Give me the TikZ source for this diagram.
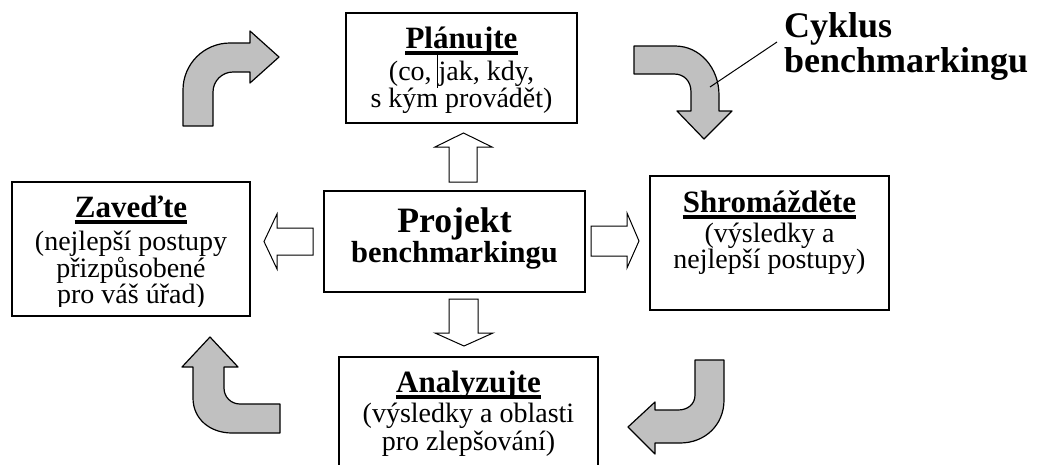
\documentclass[tikz,border=0pt]{standalone}
\usepackage{fontspec}
\setmainfont{Liberation Serif}
\definecolor{arrowgrey}{RGB}{192,192,192}
\tikzset{
  box/.style={draw, line width=1.5pt, inner sep=0pt},
  ttl/.style={font=\bfseries\fontsize{31}{31}\selectfont, inner sep=0pt, anchor=base},
  txt/.style={font=\fontsize{28}{28}\selectfont, inner sep=0pt, anchor=base},
  uline/.style={line width=3.5pt},
  hollow/.style={draw, line width=1pt, fill=white, line join=miter},
  greyarrow/.style={draw, line width=1.2pt, fill=arrowgrey, line join=round},
}
\begin{document}
\begin{tikzpicture}[x=1pt, y=-1pt]
\useasboundingbox (0,0) rectangle (1037,464);
\clip (0,0) rectangle (1037,464);

% boxes
\node[box, minimum width=231pt, minimum height=110pt] (plan) at (461.5,68) {};
\node[box, minimum width=238pt, minimum height=134pt] (zav) at (131,249) {};
\node[box, minimum width=261pt, minimum height=101pt] (proj) at (454.5,241.5) {};
\node[box, minimum width=239pt, minimum height=134pt] (shrom) at (769.5,243) {};
\node[box, minimum width=259pt, minimum height=110pt] (anal) at (468.5,412) {};

% Plánujte
\node[ttl] (planT) at (461.5,48) {Plánujte};
\draw[uline] ([yshift=-5pt]planT.base west) -- ([yshift=-5pt]planT.base east);
\node[txt] (planA) at (461.5,80) {(co, jak, kdy,};
\node[txt] (planB) at (461.5,107) {s kým provádět)};
\coordinate (curA) at (437,51);
\coordinate (curB) at (437,88);
\draw[line width=0.6pt] (curA) -- (curB);

% Zaveďte
\node[ttl] (zavT) at (131,217) {Zaveďte};
\draw[uline] ([yshift=-5pt]zavT.base west) -- ([yshift=-5pt]zavT.base east);
\node[txt] (zavA) at (131,250) {(nejlepší postupy};
\node[txt] (zavB) at (131,277) {přizpůsobené};
\begin{scope}
\clip (12,182) rectangle (250,306);
\node[txt] (zavC) at (131,303) {pro váš úřad)};
\end{scope}

% Projekt
\node[inner sep=0pt, anchor=base, font=\bfseries\fontsize{35.7}{36}\selectfont] (projT) at (454.5,232) {Projekt};
\node[inner sep=0pt, anchor=base, font=\bfseries\fontsize{30.5}{31}\selectfont] (projB) at (454.5,262) {benchmarkingu};

% Shromážděte
\node[ttl] (shromT) at (769.5,212) {Shromážděte};
\draw[uline] ([yshift=-5pt]shromT.base west) -- ([yshift=-5pt]shromT.base east);
\node[txt] (shromA) at (769.5,242) {(výsledky a};
\node[txt] (shromB) at (769.5,268) {nejlepší postupy)};

% Analyzujte
\node[ttl] (analT) at (468.5,392) {Analyzujte};
\draw[uline] ([yshift=-5pt]analT.base west) -- ([yshift=-5pt]analT.base east);
\node[txt] (analA) at (468.5,422) {(výsledky a oblasti};
\node[txt] (analB) at (468.5,450) {pro zlepšování)};

% hollow block arrows
\draw[hollow] (449,182) -- (449,147) -- (435,147) -- (463.5,133) -- (492,147) -- (477,147) -- (477,182) -- cycle;
\draw[hollow] (449,299) -- (449,333) -- (435,333) -- (464,346) -- (493,333) -- (478,333) -- (478,299) -- cycle;
\draw[hollow] (313,228) -- (277,228) -- (277,214) -- (264,241.5) -- (277,269) -- (277,255) -- (313,255) -- cycle;
\draw[hollow] (591,226) -- (627,226) -- (627,213) -- (639,241) -- (627,268) -- (627,256) -- (591,256) -- cycle;

% grey curved arrows
\draw[greyarrow] (183,126) -- (183,90) .. controls (183,64) and (204,43) .. (230,43) -- (250,43) -- (250,31) -- (279,57) -- (250,83) -- (250,72) -- (233,72) .. controls (222,72) and (213,81) .. (213,92) -- (213,126) -- cycle;
\draw[greyarrow] (634,46) -- (675,46) .. controls (700,46) and (719,68) .. (719,95) -- (719,111) -- (732,111) -- (704,139) -- (677,111) -- (691,111) -- (691,92) .. controls (691,81) and (684,74) .. (674,74) -- (634,74) -- cycle;
\draw[greyarrow] (695,360) -- (724,360) -- (724,400) .. controls (724,425) and (705,443) .. (680,443) -- (655,443) -- (655,454) -- (628,427) -- (655,402) -- (655,410) -- (678,410) .. controls (688,410) and (695,404) .. (695,395) -- cycle;
\draw[greyarrow] (193,367) -- (193,398) .. controls (193,419) and (210,433) .. (232,433) -- (280,433) -- (280,404) -- (240,404) .. controls (231,404) and (224,397) .. (224,388) -- (224,367) -- (238,367) -- (210,337) -- (182,367) -- cycle;

% label
\node[inner sep=0pt, anchor=base west, font=\bfseries\fontsize{36}{36}\selectfont] (cyk) at (784,37) {Cyklus};
\node[inner sep=0pt, anchor=base west, font=\bfseries\fontsize{36}{36}\selectfont] (cykB) at (784,72) {benchmarkingu};
\coordinate (lead) at (710,87);
\draw[line width=1pt] ([xshift=-7pt, yshift=-5pt]cyk.base west) -- (lead);
\end{tikzpicture}
\end{document}
